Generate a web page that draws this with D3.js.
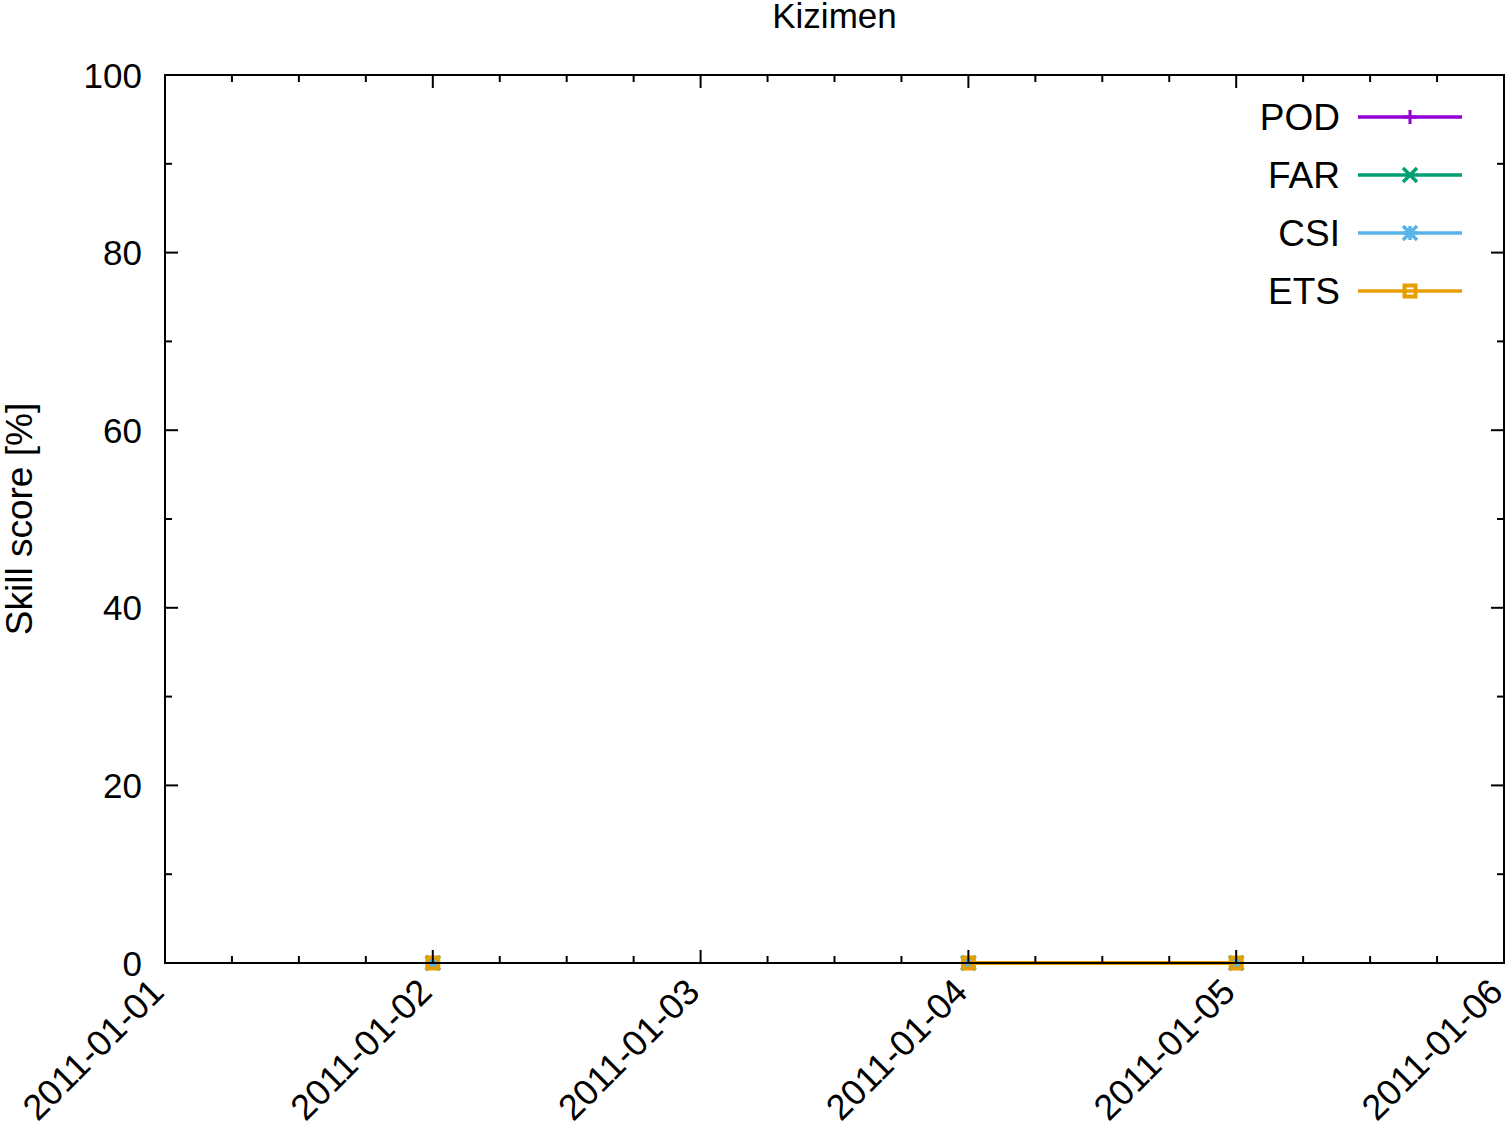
<!DOCTYPE html>
<html><head><meta charset="utf-8">
<script src="https://cdn.jsdelivr.net/npm/d3@7"></script>
<style>
body{margin:0;background:#fff;}
text{font-family:"Liberation Sans",Arial,Helvetica,sans-serif;fill:#000;}
</style></head>
<body><svg id="chart" width="1507" height="1127"></svg>
<script>
const title = "Kizimen";
const yLabel = "Skill score [%]";
const dates = ["2011-01-02","2011-01-03","2011-01-04","2011-01-05"];
const POD = [0, null, 0, 0];
const FAR = [0, null, 0, 0];
const CSI = [0, null, 0, 0];
const ETS = [0, null, 0, 0];
const seriesNames = ["POD","FAR","CSI","ETS"];
const seriesColors = ["#9400d3","#009e73","#56b4e9","#e69f00"];
const xTickLabels = ["2011-01-01","2011-01-02","2011-01-03","2011-01-04","2011-01-05","2011-01-06"];
const yTicks = [0,20,40,60,80,100];

const parse = d3.utcParse("%Y-%m-%d");
const svg = d3.select("#chart");
const L=165,R=1504,T=75,B=963;
const x = d3.scaleUtc().domain([parse(xTickLabels[0]), parse(xTickLabels[xTickLabels.length-1])]).range([L,R]);
const y = d3.scaleLinear().domain([0,100]).range([B,T]);

const seriesData = [POD,FAR,CSI,ETS].map((vals,i)=>({name:seriesNames[i],color:seriesColors[i],
  pts:dates.map((d,j)=>({t:parse(d),v:vals[j]}))}));

// title
svg.append("text").attr("x",(L+R)/2).attr("y",28).attr("text-anchor","middle").attr("font-size",35).text(title);
// y label
svg.append("text").attr("transform",`translate(32,${(T+B)/2}) rotate(-90)`).attr("text-anchor","middle").attr("font-size",37).text(yLabel);

// data
const line = d3.line().defined(d=>d.v!=null).x(d=>x(d.t)).y(d=>y(d.v));
function marker(g,type,cx,cy,color){
  const s=7;
  if(type===0){
    g.append("path").attr("d",`M${cx-s},${cy}H${cx+s}M${cx},${cy-s}V${cy+s}`).attr("stroke",color).attr("stroke-width",3);
  } else if(type===1){
    g.append("path").attr("d",`M${cx-s},${cy-s}L${cx+s},${cy+s}M${cx-s},${cy+s}L${cx+s},${cy-s}`).attr("stroke",color).attr("stroke-width",3.5);
  } else if(type===2){
    g.append("path").attr("d",`M${cx-s},${cy}H${cx+s}M${cx},${cy-s}V${cy+s}M${cx-s},${cy-s}L${cx+s},${cy+s}M${cx-s},${cy+s}L${cx+s},${cy-s}`).attr("stroke",color).attr("stroke-width",3.5);
  } else {
    g.append("rect").attr("x",cx-5.5).attr("y",cy-5.5).attr("width",11).attr("height",11).attr("fill","none").attr("stroke",color).attr("stroke-width",4);
  }
}
const dg = svg.append("g");
seriesData.forEach((s,i)=>{
  dg.append("path").attr("d",line(s.pts)).attr("fill","none").attr("stroke",s.color).attr("stroke-width",4);
  s.pts.filter(p=>p.v!=null).forEach(p=>marker(dg,i,x(p.t),y(p.v),s.color));
});

// legend
const lg = svg.append("g");
const legY=[117,175,233,291];
seriesData.forEach((s,i)=>{
  lg.append("text").attr("x",1340).attr("y",legY[i]).attr("dy","0.36em").attr("text-anchor","end").attr("font-size",37).text(s.name);
  lg.append("line").attr("x1",1358).attr("x2",1462).attr("y1",legY[i]).attr("y2",legY[i]).attr("stroke",s.color).attr("stroke-width",3.5);
  marker(lg,i,1410,legY[i],s.color);
});

// ticks & border
const ag = svg.append("g").attr("stroke","#000").attr("stroke-width",2);
const days = xTickLabels.map(parse);
const minorX = d3.utcHour.every(6).range(days[0], days[days.length-1]).filter(t=>t.getUTCHours()!==0);
days.forEach(t=>{const px=x(t);
  ag.append("line").attr("x1",px).attr("x2",px).attr("y1",B).attr("y2",B-13);
  ag.append("line").attr("x1",px).attr("x2",px).attr("y1",T).attr("y2",T+13);});
minorX.forEach(t=>{const px=x(t);
  ag.append("line").attr("x1",px).attr("x2",px).attr("y1",B).attr("y2",B-7);
  ag.append("line").attr("x1",px).attr("x2",px).attr("y1",T).attr("y2",T+7);});
d3.range(0,101,10).forEach(v=>{const py=y(v); const len = v%20===0?13:7;
  ag.append("line").attr("x1",L).attr("x2",L+len).attr("y1",py).attr("y2",py);
  ag.append("line").attr("x1",R).attr("x2",R-len).attr("y1",py).attr("y2",py);});
ag.append("rect").attr("x",L).attr("y",T).attr("width",R-L).attr("height",B-T).attr("fill","none");

// tick labels
yTicks.forEach(v=>svg.append("text").attr("x",142).attr("y",y(v)).attr("dy","0.36em").attr("text-anchor","end").attr("font-size",35).text(v));
days.forEach((t,i)=>svg.append("text").attr("transform",`translate(${x(t)+1},${B+31}) rotate(-45)`).attr("text-anchor","end").attr("font-size",36).text(xTickLabels[i]));
</script></body></html>
